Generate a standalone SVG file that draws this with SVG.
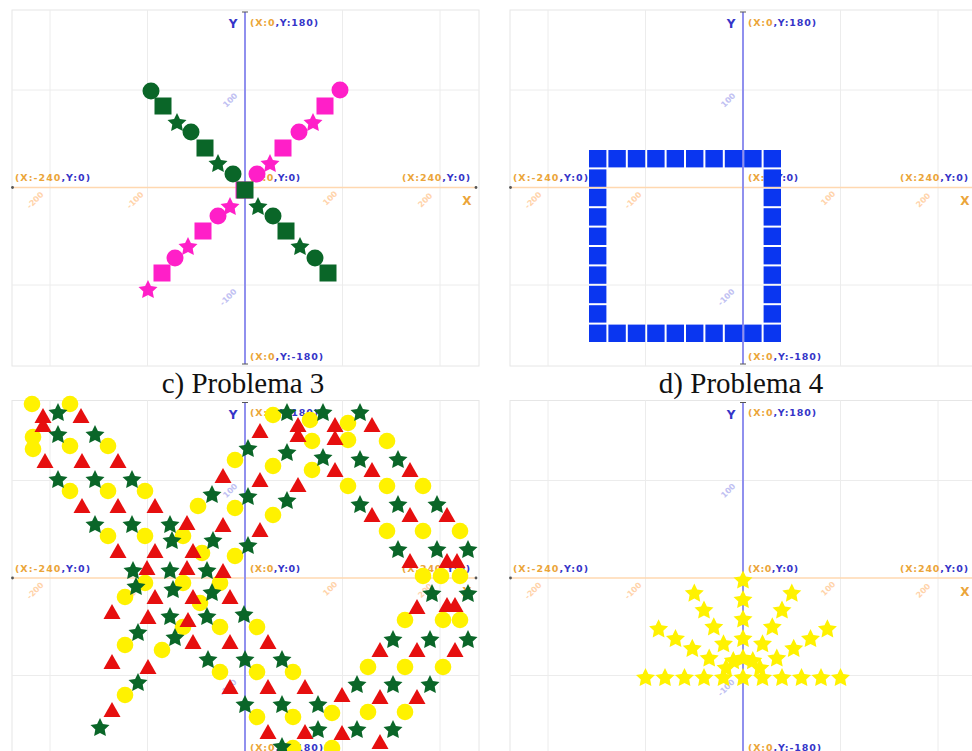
<svg xmlns="http://www.w3.org/2000/svg" xmlns:xlink="http://www.w3.org/1999/xlink" width="972" height="751" viewBox="0 0 972 751">
<style>
.bg{fill:#fff}
.frame{fill:#fff;stroke:#e6e6e6;stroke-width:1}
.grid{stroke:#ececec;stroke-width:1}
.xax{stroke:#ffd8b0;stroke-width:1.5}
.yax{stroke:#9090ee;stroke-width:2}
.tick{stroke:#555;stroke-width:1}
.lb{font-family:"DejaVu Sans",Verdana,sans-serif;font-size:9.5px;font-weight:bold}
.ax{font-family:"DejaVu Sans",Verdana,sans-serif;font-size:12px;font-weight:bold;text-anchor:middle}
.o{fill:#eba53a}
.b{fill:#3535c8}
.tkx{font-family:"DejaVu Sans",sans-serif;font-size:8px;font-weight:bold;fill:#ffd3aa;text-anchor:middle}
.tky{font-family:"DejaVu Sans",sans-serif;font-size:8px;font-weight:bold;fill:#c0c0f2;text-anchor:middle}
.tt{font-family:"Liberation Serif","Times New Roman",serif;font-size:29px;fill:#111;text-anchor:middle}
.g{fill:#0a6628}
.p{fill:#ff1fc8}
.bl{fill:#0a36f0}
.yl{fill:#fff200}
.rd{fill:#e60f0f}
</style>
<defs>
<polygon id="st" points="0,-10 2.9,-4 9.5,-3.1 4.7,1.5 5.9,8.1 0,5 -5.9,8.1 -4.7,1.5 -9.5,-3.1 -2.9,-4"/>
<polygon id="tr" points="0,-8 8.5,7 -8.5,7"/>
<circle id="ci" cx="0" cy="0" r="8.3"/>
<circle id="cb" cx="0" cy="0" r="8.5"/>
<rect id="sq" x="-8.5" y="-8.5" width="17" height="17"/>
<rect id="bq" x="0" y="0" width="17.4" height="17.4"/>
<g id="stage">
<rect class="frame" x="12" y="10" width="467" height="356"/>
<line class="grid" x1="50" y1="10" x2="50" y2="366"/>
<line class="grid" x1="147.5" y1="10" x2="147.5" y2="366"/>
<line class="grid" x1="342.5" y1="10" x2="342.5" y2="366"/>
<line class="grid" x1="440" y1="10" x2="440" y2="366"/>
<line class="grid" x1="12" y1="90" x2="479" y2="90"/>
<line class="grid" x1="12" y1="285" x2="479" y2="285"/>
<line class="xax" x1="12" y1="187.5" x2="477" y2="187.5"/>
<line class="yax" x1="245" y1="12" x2="245" y2="364"/>
<line class="tick" x1="242" y1="12" x2="248" y2="12"/>
<line class="tick" x1="242" y1="364" x2="248" y2="364"/>
<circle cx="12.5" cy="187.5" r="1.4" fill="#555"/>
<circle cx="476" cy="187.5" r="1.4" fill="#555"/>
<text class="tkx" x="35" y="203" transform="rotate(-45 35 200)">-200</text>
<text class="tkx" x="135" y="203" transform="rotate(-45 135 200)">-100</text>
<text class="tkx" x="330" y="201" transform="rotate(-45 330 198)">100</text>
<text class="tkx" x="425" y="203" transform="rotate(-45 425 200)">200</text>
<text class="tky" x="230" y="103" transform="rotate(-45 230 100)">100</text>
<text class="tky" x="228" y="300" transform="rotate(-45 228 297)">-100</text>
<text class="ax b" x="233" y="28">Y</text>
<text class="ax o" x="467" y="205">X</text>
<text class="lb" x="250" y="25.5" textLength="68"><tspan class="o">(X:0</tspan><tspan class="b">,Y:180)</tspan></text>
<text class="lb" x="15" y="181" textLength="75"><tspan class="o">(X:-240</tspan><tspan class="b">,Y:0)</tspan></text>
<text class="lb" x="250" y="181" textLength="50"><tspan class="o">(X:0</tspan><tspan class="b">,Y:0)</tspan></text>
<text class="lb" x="402" y="181" textLength="68"><tspan class="o">(X:240</tspan><tspan class="b">,Y:0)</tspan></text>
<text class="lb" x="250" y="360" textLength="73"><tspan class="o">(X:0</tspan><tspan class="b">,Y:-180)</tspan></text>
</g>
</defs>
<rect class="bg" x="0" y="0" width="972" height="751"/>

<g id="panel-a">
<use href="#stage" x="0" y="0"/>
<g id="pink-line" class="p">
<use href="#cb" x="340" y="90"/>
<use href="#sq" x="325" y="106"/>
<use href="#st" x="313" y="123"/>
<use href="#cb" x="299" y="132"/>
<use href="#sq" x="283" y="148"/>
<use href="#st" x="270" y="164"/>
<use href="#cb" x="257" y="174"/>
<use href="#sq" x="244" y="190"/>
<use href="#st" x="230" y="207"/>
<use href="#cb" x="218" y="216"/>
<use href="#sq" x="203" y="231"/>
<use href="#st" x="188" y="247"/>
<use href="#cb" x="175" y="258"/>
<use href="#sq" x="162" y="273"/>
<use href="#st" x="148" y="290"/>
</g>
<g id="green-line" class="g">
<use href="#cb" x="151" y="91"/>
<use href="#sq" x="163" y="106"/>
<use href="#st" x="177" y="123"/>
<use href="#cb" x="191" y="132"/>
<use href="#sq" x="205" y="148"/>
<use href="#st" x="218" y="164"/>
<use href="#cb" x="233" y="174"/>
<use href="#sq" x="245" y="190"/>
<use href="#st" x="258" y="207"/>
<use href="#cb" x="273" y="216"/>
<use href="#sq" x="286" y="231"/>
<use href="#st" x="300" y="247"/>
<use href="#cb" x="315" y="258"/>
<use href="#sq" x="328" y="273"/>
</g>
</g>

<g id="panel-b">
<use href="#stage" x="498" y="0"/>
<g id="blue-square" class="bl">
<use href="#bq" x="589" y="150"/><use href="#bq" x="608.4" y="150"/><use href="#bq" x="627.8" y="150"/><use href="#bq" x="647.2" y="150"/><use href="#bq" x="666.6" y="150"/><use href="#bq" x="686" y="150"/><use href="#bq" x="705.4" y="150"/><use href="#bq" x="724.8" y="150"/><use href="#bq" x="744.2" y="150"/><use href="#bq" x="763.6" y="150"/>
<use href="#bq" x="589" y="324.6"/><use href="#bq" x="608.4" y="324.6"/><use href="#bq" x="627.8" y="324.6"/><use href="#bq" x="647.2" y="324.6"/><use href="#bq" x="666.6" y="324.6"/><use href="#bq" x="686" y="324.6"/><use href="#bq" x="705.4" y="324.6"/><use href="#bq" x="724.8" y="324.6"/><use href="#bq" x="744.2" y="324.6"/><use href="#bq" x="763.6" y="324.6"/>
<use href="#bq" x="589" y="169.4"/><use href="#bq" x="589" y="188.8"/><use href="#bq" x="589" y="208.2"/><use href="#bq" x="589" y="227.6"/><use href="#bq" x="589" y="247"/><use href="#bq" x="589" y="266.4"/><use href="#bq" x="589" y="285.8"/><use href="#bq" x="589" y="305.2"/>
<use href="#bq" x="763.6" y="169.4"/><use href="#bq" x="763.6" y="188.8"/><use href="#bq" x="763.6" y="208.2"/><use href="#bq" x="763.6" y="227.6"/><use href="#bq" x="763.6" y="247"/><use href="#bq" x="763.6" y="266.4"/><use href="#bq" x="763.6" y="285.8"/><use href="#bq" x="763.6" y="305.2"/>
</g>
</g>

<text id="title-c" class="tt" x="243" y="393">c) Problema 3</text>
<text id="title-d" class="tt" x="741" y="393">d) Problema 4</text>

<g id="panel-c">
<use href="#stage" x="0" y="390.5"/>
<g id="yellow-circles" class="yl">
<use href="#ci" x="32" y="404"/><use href="#ci" x="70" y="404"/>
<use href="#ci" x="33" y="437"/><use href="#ci" x="33" y="449"/>
<use href="#ci" x="70" y="446"/><use href="#ci" x="108" y="446"/>
<use href="#ci" x="70" y="491"/><use href="#ci" x="108" y="491"/><use href="#ci" x="145" y="491"/>
<use href="#ci" x="108" y="536"/><use href="#ci" x="145" y="536"/><use href="#ci" x="183" y="536"/>
<use href="#ci" x="198" y="506"/><use href="#ci" x="235" y="460"/><use href="#ci" x="235" y="508"/><use href="#ci" x="202" y="553"/><use href="#ci" x="235" y="556"/>
<use href="#ci" x="273" y="415"/><use href="#ci" x="273" y="466"/><use href="#ci" x="273" y="515"/>
<use href="#ci" x="310" y="420"/><use href="#ci" x="312" y="441"/><use href="#ci" x="312" y="470"/>
<use href="#ci" x="348" y="423"/><use href="#ci" x="348" y="440"/><use href="#ci" x="348" y="486"/>
<use href="#ci" x="387" y="441"/><use href="#ci" x="387" y="486"/><use href="#ci" x="387" y="531"/>
<use href="#ci" x="423" y="486"/><use href="#ci" x="423" y="531"/><use href="#ci" x="423" y="576"/>
<use href="#ci" x="460" y="531"/><use href="#ci" x="441" y="576"/><use href="#ci" x="460" y="576"/>
<use href="#ci" x="145" y="583"/><use href="#ci" x="183" y="583"/><use href="#ci" x="220" y="583"/>
<use href="#ci" x="125" y="597"/><use href="#ci" x="200" y="603"/>
<use href="#ci" x="183" y="627"/><use href="#ci" x="220" y="627"/>
<use href="#ci" x="125" y="645"/><use href="#ci" x="162" y="650"/>
<use href="#ci" x="220" y="672"/><use href="#ci" x="125" y="695"/>
<use href="#ci" x="257" y="627"/><use href="#ci" x="257" y="672"/><use href="#ci" x="257" y="717"/>
<use href="#ci" x="293" y="672"/><use href="#ci" x="293" y="717"/>
<use href="#ci" x="332" y="713"/>
<use href="#ci" x="368" y="667"/><use href="#ci" x="368" y="712"/>
<use href="#ci" x="405" y="620"/><use href="#ci" x="405" y="667"/><use href="#ci" x="405" y="712"/>
<use href="#ci" x="443" y="620"/><use href="#ci" x="460" y="620"/><use href="#ci" x="443" y="667"/>
<use href="#ci" x="293" y="748"/><use href="#ci" x="332" y="748"/>
</g>
<g id="red-triangles" class="rd">
<use href="#tr" x="43" y="416"/><use href="#tr" x="43" y="425"/><use href="#tr" x="81" y="416"/>
<use href="#tr" x="45" y="461"/><use href="#tr" x="82" y="461"/><use href="#tr" x="118" y="461"/>
<use href="#tr" x="82" y="506"/><use href="#tr" x="118" y="506"/><use href="#tr" x="155" y="506"/>
<use href="#tr" x="118" y="551"/><use href="#tr" x="155" y="551"/><use href="#tr" x="193" y="551"/>
<use href="#tr" x="187" y="523"/><use href="#tr" x="223" y="476"/><use href="#tr" x="223" y="525"/>
<use href="#tr" x="147" y="568"/><use href="#tr" x="187" y="568"/><use href="#tr" x="223" y="571"/>
<use href="#tr" x="155" y="597"/><use href="#tr" x="193" y="597"/><use href="#tr" x="230" y="597"/>
<use href="#tr" x="112" y="612"/><use href="#tr" x="148" y="617"/><use href="#tr" x="188" y="620"/>
<use href="#tr" x="193" y="642"/><use href="#tr" x="230" y="642"/>
<use href="#tr" x="112" y="662"/><use href="#tr" x="148" y="667"/>
<use href="#tr" x="230" y="687"/><use href="#tr" x="112" y="710"/>
<use href="#tr" x="260" y="431"/><use href="#tr" x="260" y="480"/><use href="#tr" x="260" y="530"/>
<use href="#tr" x="298" y="425"/><use href="#tr" x="298" y="435"/><use href="#tr" x="298" y="485"/>
<use href="#tr" x="335" y="425"/><use href="#tr" x="335" y="438"/><use href="#tr" x="335" y="470"/>
<use href="#tr" x="372" y="425"/><use href="#tr" x="372" y="470"/><use href="#tr" x="372" y="515"/>
<use href="#tr" x="410" y="470"/><use href="#tr" x="410" y="515"/><use href="#tr" x="410" y="561"/>
<use href="#tr" x="447" y="515"/><use href="#tr" x="447" y="561"/><use href="#tr" x="457" y="561"/>
<use href="#tr" x="268" y="642"/><use href="#tr" x="268" y="687"/><use href="#tr" x="268" y="732"/>
<use href="#tr" x="305" y="687"/><use href="#tr" x="305" y="732"/>
<use href="#tr" x="342" y="695"/><use href="#tr" x="342" y="733"/>
<use href="#tr" x="380" y="650"/><use href="#tr" x="380" y="697"/><use href="#tr" x="380" y="742"/>
<use href="#tr" x="417" y="607"/><use href="#tr" x="417" y="650"/><use href="#tr" x="417" y="697"/>
<use href="#tr" x="447" y="605"/><use href="#tr" x="455" y="605"/><use href="#tr" x="455" y="650"/>
</g>
<g id="green-stars" class="g">
<use href="#st" x="58" y="413"/>
<use href="#st" x="58" y="435"/><use href="#st" x="95" y="435"/>
<use href="#st" x="58" y="480"/><use href="#st" x="95" y="480"/><use href="#st" x="132" y="480"/>
<use href="#st" x="95" y="525"/><use href="#st" x="132" y="525"/><use href="#st" x="170" y="525"/>
<use href="#st" x="172" y="541"/>
<use href="#st" x="133" y="571"/><use href="#st" x="170" y="571"/><use href="#st" x="207" y="571"/>
<use href="#st" x="136" y="587"/><use href="#st" x="173" y="590"/><use href="#st" x="212" y="593"/>
<use href="#st" x="170" y="617"/><use href="#st" x="207" y="617"/><use href="#st" x="244" y="615"/>
<use href="#st" x="138" y="633"/><use href="#st" x="175" y="638"/>
<use href="#st" x="208" y="660"/><use href="#st" x="245" y="660"/>
<use href="#st" x="138" y="683"/><use href="#st" x="100" y="728"/><use href="#st" x="245" y="705"/>
<use href="#st" x="212" y="495"/><use href="#st" x="213" y="541"/>
<use href="#st" x="248" y="449"/><use href="#st" x="248" y="497"/><use href="#st" x="248" y="546"/>
<use href="#st" x="287" y="413"/><use href="#st" x="323" y="413"/><use href="#st" x="360" y="413"/>
<use href="#st" x="287" y="453"/><use href="#st" x="323" y="458"/><use href="#st" x="360" y="460"/><use href="#st" x="398" y="460"/>
<use href="#st" x="287" y="501"/><use href="#st" x="360" y="505"/><use href="#st" x="398" y="505"/><use href="#st" x="437" y="505"/>
<use href="#st" x="398" y="550"/><use href="#st" x="437" y="550"/><use href="#st" x="468" y="550"/>
<use href="#st" x="432" y="594"/><use href="#st" x="468" y="594"/>
<use href="#st" x="393" y="640"/><use href="#st" x="430" y="640"/><use href="#st" x="468" y="640"/>
<use href="#st" x="357" y="685"/><use href="#st" x="393" y="685"/><use href="#st" x="430" y="685"/>
<use href="#st" x="282" y="660"/><use href="#st" x="282" y="705"/><use href="#st" x="318" y="705"/>
<use href="#st" x="318" y="730"/><use href="#st" x="357" y="730"/><use href="#st" x="393" y="730"/>
<use href="#st" x="282" y="747"/>
</g>
</g>

<g id="panel-d">
<use href="#stage" x="498" y="390.5"/>
<g id="yellow-fan" class="yl">
<use href="#st" x="743" y="678"/>
<use href="#st" x="762.5" y="678"/><use href="#st" x="782" y="678"/><use href="#st" x="801.5" y="678"/><use href="#st" x="821" y="678"/><use href="#st" x="840.5" y="678"/>
<use href="#st" x="723.5" y="678"/><use href="#st" x="704" y="678"/><use href="#st" x="684.5" y="678"/><use href="#st" x="665" y="678"/><use href="#st" x="645.5" y="678"/>
<use href="#st" x="743" y="658.5"/><use href="#st" x="743" y="639"/><use href="#st" x="743" y="619.5"/><use href="#st" x="743" y="600"/><use href="#st" x="743" y="580.5"/>
<use href="#st" x="759.9" y="668.3"/><use href="#st" x="776.8" y="658.5"/><use href="#st" x="793.7" y="648.8"/><use href="#st" x="810.5" y="639"/><use href="#st" x="827.4" y="629.3"/>
<use href="#st" x="726.1" y="668.3"/><use href="#st" x="709.2" y="658.5"/><use href="#st" x="692.3" y="648.8"/><use href="#st" x="675.5" y="639"/><use href="#st" x="658.6" y="629.3"/>
<use href="#st" x="752.8" y="661.1"/><use href="#st" x="762.5" y="644.2"/><use href="#st" x="772.3" y="627.3"/><use href="#st" x="782" y="610.5"/><use href="#st" x="791.8" y="593.6"/>
<use href="#st" x="733.3" y="661.1"/><use href="#st" x="723.5" y="644.2"/><use href="#st" x="713.8" y="627.3"/><use href="#st" x="704" y="610.5"/><use href="#st" x="694.3" y="593.6"/>
</g>
</g>
</svg>
